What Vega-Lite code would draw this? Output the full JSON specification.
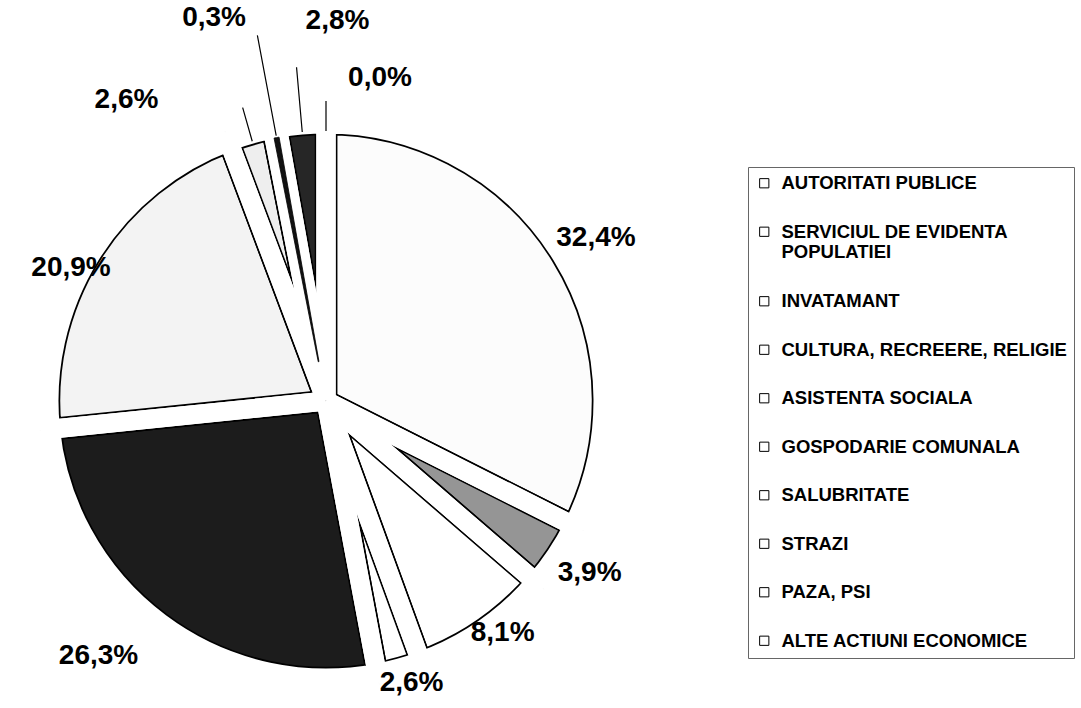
{
  "$schema": "https://vega.github.io/schema/vega-lite/v6.json",
  "autosize": "none",
  "width": 652,
  "height": 560,
  "padding": {"left": 0, "top": 121, "right": 429, "bottom": 27},
  "background": "white",
  "data": {
    "values": [
      {"i": 1, "cat": "AUTORITATI PUBLICE", "pct": 32.4, "lbl": "32,4%"},
      {"i": 2, "cat": "SERVICIUL DE EVIDENTA POPULATIEI", "pct": 3.9, "lbl": "3,9%"},
      {"i": 3, "cat": "INVATAMANT", "pct": 8.1, "lbl": "8,1%"},
      {"i": 4, "cat": "CULTURA, RECREERE, RELIGIE", "pct": 2.6, "lbl": "2,6%"},
      {"i": 5, "cat": "ASISTENTA SOCIALA", "pct": 26.3, "lbl": "26,3%"},
      {"i": 6, "cat": "GOSPODARIE COMUNALA", "pct": 20.9, "lbl": "20,9%"},
      {"i": 7, "cat": "SALUBRITATE", "pct": 2.6, "lbl": "2,6%"},
      {"i": 8, "cat": "STRAZI", "pct": 0.3, "lbl": "0,3%"},
      {"i": 9, "cat": "PAZA, PSI", "pct": 2.8, "lbl": "2,8%"},
      {"i": 10, "cat": "ALTE ACTIUNI ECONOMICE", "pct": 0.0, "lbl": "0,0%"}
    ]
  },
  "encoding": {
    "theta": {"field": "pct", "type": "quantitative", "stack": true},
    "order": {"field": "i", "type": "quantitative"}
  },
  "layer": [
    {
      "mark": {"type": "arc", "radius": 277, "stroke": "black", "strokeWidth": 22.5, "strokeJoin": "round"},
      "encoding": {
        "fill": {
          "field": "cat", "type": "nominal",
          "scale": {
            "domain": ["ALTE ACTIUNI ECONOMICE", "PAZA, PSI", "STRAZI", "SALUBRITATE", "GOSPODARIE COMUNALA", "ASISTENTA SOCIALA", "CULTURA, RECREERE, RELIGIE", "INVATAMANT", "SERVICIUL DE EVIDENTA POPULATIEI", "AUTORITATI PUBLICE"],
            "range": ["#ffffff", "#262626", "#111111", "#eeeeee", "#f3f3f3", "#1c1c1c", "#ffffff", "#ffffff", "#959595", "#fcfcfc"]
          },
          "legend": null
        },
        "strokeOpacity": {"condition": {"test": "datum.pct == 0", "value": 0}, "value": 1}
      }
    },
    {
      "mark": {"type": "arc", "radius": 277, "filled": false, "fill": null, "stroke": "white", "strokeWidth": 19, "strokeJoin": "round"}
    },
    {
      "mark": {"type": "arc", "radius": 292, "radius2": 277, "fill": "white", "stroke": "white", "strokeWidth": 1}
    },
    {
      "mark": {"type": "arc", "radius": 268, "radius2": 40, "stroke": "black", "strokeWidth": 0.8, "fill": "#111111"},
      "encoding": {
        "opacity": {"condition": {"test": "datum.i == 8", "value": 1}, "value": 0}
      }
    },
    {
      "mark": {"type": "arc", "radius": 0.01, "radius2": 0, "filled": false, "fill": null, "strokeWidth": 1},
      "encoding": {
        "stroke": {
          "field": "cat", "type": "nominal",
          "scale": {
            "domain": ["AUTORITATI PUBLICE", "SERVICIUL DE EVIDENTA POPULATIEI", "INVATAMANT", "CULTURA, RECREERE, RELIGIE", "ASISTENTA SOCIALA", "GOSPODARIE COMUNALA", "SALUBRITATE", "STRAZI", "PAZA, PSI", "ALTE ACTIUNI ECONOMICE"],
            "range": ["black", "black", "black", "black", "black", "black", "black", "black", "black", "black"]
          },
          "legend": {
            "title": null,
            "orient": "none",
            "legendX": 748,
            "legendY": 46,
            "symbolType": "square",
            "symbolSize": 85,
            "symbolStrokeWidth": 1,
            "symbolFillColor": "white",
            "labelFont": "Liberation Sans",
            "labelFontSize": 18.5,
            "labelFontWeight": "bold",
            "labelColor": "black",
            "labelLimit": 0,
            "labelOffset": 8,
            "rowPadding": 29.5,
            "padding": 7,
            "strokeColor": "#666666",
            "labelExpr": "datum.label == 'SERVICIUL DE EVIDENTA POPULATIEI' ? ['SERVICIUL DE EVIDENTA', 'POPULATIEI'] : datum.label"
          }
        }
      }
    },
    {
      "mark": {"type": "arc", "radius": 305, "radius2": 270, "padAngle": 0.5, "filled": false, "fill": null, "stroke": "black", "strokeWidth": 1.2},
      "encoding": {"strokeOpacity": {"condition": {"test": "datum.i == 7", "value": 1}, "value": 0}}
    },
    {
      "mark": {"type": "arc", "radius": 372, "radius2": 270, "padAngle": 0.5, "filled": false, "fill": null, "stroke": "black", "strokeWidth": 1.2},
      "encoding": {"strokeOpacity": {"condition": {"test": "datum.i == 8", "value": 1}, "value": 0}}
    },
    {
      "mark": {"type": "arc", "radius": 335, "radius2": 270, "padAngle": 0.5, "filled": false, "fill": null, "stroke": "black", "strokeWidth": 1.2},
      "encoding": {"strokeOpacity": {"condition": {"test": "datum.i == 9", "value": 1}, "value": 0}}
    },
    {
      "mark": {"type": "arc", "radius": 300, "radius2": 270, "padAngle": 0.5, "filled": false, "fill": null, "stroke": "black", "strokeWidth": 1.2},
      "encoding": {"strokeOpacity": {"condition": {"test": "datum.i == 10", "value": 1}, "value": 0}}
    },
    {
      "mark": {"type": "text", "radius": 310, "dx": 6, "font": "Liberation Sans", "fontSize": 28, "fontWeight": "bold", "color": "black"},
      "encoding": {
        "text": {"condition": {"test": "datum.i <= 2", "field": "lbl"}, "value": ""}
      }
    },
    {
      "mark": {"type": "text", "radius": 290, "dx": 12, "dy": -7, "font": "Liberation Sans", "fontSize": 28, "fontWeight": "bold", "color": "black"},
      "encoding": {
        "text": {"condition": {"test": "datum.i == 3", "field": "lbl"}, "value": ""}
      }
    },
    {
      "mark": {"type": "text", "radius": 290, "dx": 9, "dy": 2, "font": "Liberation Sans", "fontSize": 28, "fontWeight": "bold", "color": "black"},
      "encoding": {
        "text": {"condition": {"test": "datum.i == 4", "field": "lbl"}, "value": ""}
      }
    },
    {
      "mark": {"type": "text", "radius": 330, "dx": -30, "dy": -9, "font": "Liberation Sans", "fontSize": 28, "fontWeight": "bold", "color": "black"},
      "encoding": {
        "text": {"condition": {"test": "datum.i == 5", "field": "lbl"}, "value": ""}
      }
    },
    {
      "mark": {"type": "text", "radius": 300, "dy": 25, "font": "Liberation Sans", "fontSize": 28, "fontWeight": "bold", "color": "black"},
      "encoding": {
        "text": {"condition": {"test": "datum.i == 6", "field": "lbl"}, "value": ""}
      }
    },
    {
      "mark": {"type": "text", "radius": 313, "dx": -114, "font": "Liberation Sans", "fontSize": 28, "fontWeight": "bold", "color": "black"},
      "encoding": {
        "text": {"condition": {"test": "datum.i == 7", "field": "lbl"}, "value": ""}
      }
    },
    {
      "mark": {"type": "text", "radius": 390, "dx": -40, "font": "Liberation Sans", "fontSize": 28, "fontWeight": "bold", "color": "black"},
      "encoding": {
        "text": {"condition": {"test": "datum.i == 8", "field": "lbl"}, "value": ""}
      }
    },
    {
      "mark": {"type": "text", "radius": 381, "dx": 45, "font": "Liberation Sans", "fontSize": 28, "fontWeight": "bold", "color": "black"},
      "encoding": {
        "text": {"condition": {"test": "datum.i == 9", "field": "lbl"}, "value": ""}
      }
    },
    {
      "mark": {"type": "text", "radius": 323, "dx": 54, "font": "Liberation Sans", "fontSize": 28, "fontWeight": "bold", "color": "black"},
      "encoding": {
        "text": {"condition": {"test": "datum.i == 10", "field": "lbl"}, "value": ""}
      }
    }
  ]
}
